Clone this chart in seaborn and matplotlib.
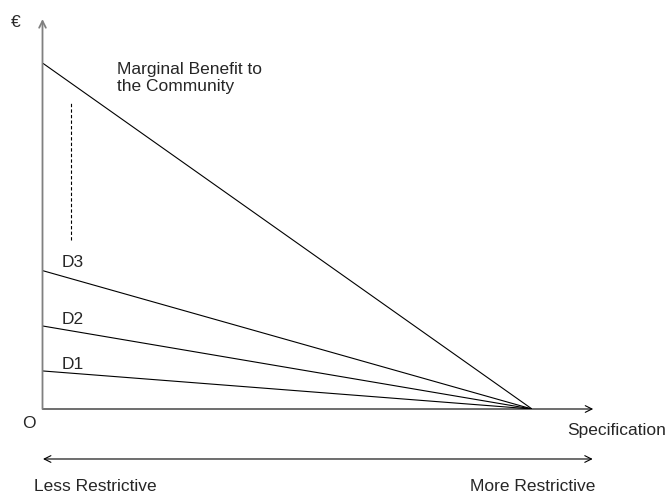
import pandas as pd
import matplotlib
matplotlib.use("Agg")
import matplotlib.pyplot as plt
import seaborn as sns

# Curves: value on the euro axis where each line meets the vertical axis,
# all falling to zero at the most restrictive specification
curves = ['Marginal Benefit to\nthe Community', 'D3', 'D2', 'D1']
intercepts = [10.0, 4.0, 2.4, 1.1]
spec_start = [0.0, 0.0, 0.0, 0.0]
spec_end = [1.0, 1.0, 1.0, 1.0]

rows = []
for name, b, x0, x1 in zip(curves, intercepts, spec_start, spec_end):
    rows.append({'Curve': name, 'Spec': x0, 'Euro': b})
    rows.append({'Curve': name, 'Spec': x1, 'Euro': 0.0})
df = pd.DataFrame(rows)

sns.set_theme(style='white')
plt.rcParams['font.family'] = ['Liberation Sans', 'DejaVu Sans']

fig = plt.figure(figsize=(6.7, 4.93), dpi=100)
ax = fig.add_axes([42.5 / 670, 84 / 493, 489.5 / 670, 346 / 493])

sns.lineplot(data=df, x='Spec', y='Euro', hue='Curve',
             palette=['black'] * len(curves), linewidth=0.8,
             legend=False, ax=ax)

ax.set_xlim(0, 1)
ax.set_ylim(0, 10)
ax.set_axis_off()

# axes with open arrow heads
ax.annotate('', xy=(1.125, 0), xytext=(0, 0), annotation_clip=False,
            arrowprops=dict(arrowstyle='->', color='black', lw=0.8,
                            shrinkA=0, shrinkB=0))
ax.annotate('', xy=(0, 11.27), xytext=(0, 0), annotation_clip=False,
            arrowprops=dict(arrowstyle='->', color='#808080', lw=1.3,
                            shrinkA=0, shrinkB=0))
# double arrow below
ax.annotate('', xy=(1.124, -1.445), xytext=(0.001, -1.445), annotation_clip=False,
            arrowprops=dict(arrowstyle='<->', color='black', lw=0.8,
                            shrinkA=0, shrinkB=0))

# dashed marker line
ax.plot([0.0576, 0.0576], [4.88, 8.84], color='black', lw=0.8,
        linestyle=(0, (3, 2)))

fs = 12.5
ax.text(-0.055, 11.18, '€', fontsize=fs, ha='center', va='center', clip_on=False)
ax.text(-0.0286, -0.43, 'O', fontsize=fs, ha='center', va='center', clip_on=False)
ax.text(1.0715, -0.61, 'Specification', fontsize=fs, ha='left', va='center', clip_on=False)
ax.text(0.108, -2.23, 'Less Restrictive', fontsize=fs, ha='center', va='center', clip_on=False)
ax.text(1.129, -2.23, 'More Restrictive', fontsize=fs, ha='right', va='center', clip_on=False)

ax.text(0.152, 9.57, curves[0], fontsize=fs, ha='left', va='center',
        linespacing=1.15, clip_on=False)
label_y = [4.22, 2.60, 1.30]
for name, y in zip(curves[1:], label_y):
    ax.text(0.0398, y, name, fontsize=fs, ha='left', va='center', clip_on=False)

fig.savefig('out.png', dpi=100, facecolor='white')
